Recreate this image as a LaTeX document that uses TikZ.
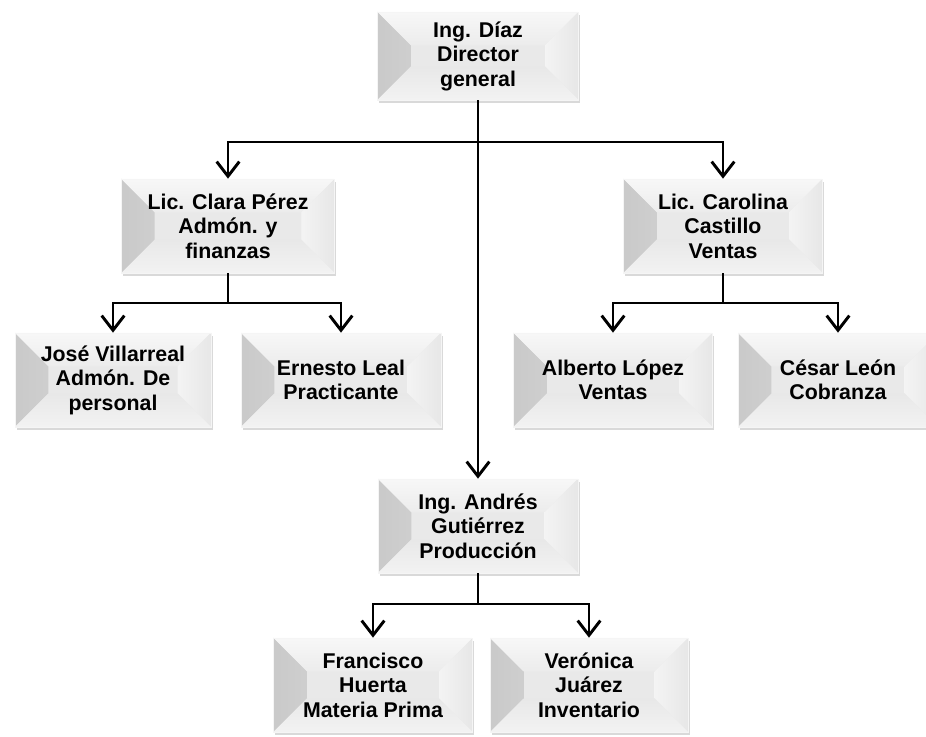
\documentclass[tikz,border=0pt]{standalone}
\usepackage{fontspec}
\setmainfont{Liberation Sans}
\usetikzlibrary{arrows.meta,shadows,calc}

\begin{document}
\begin{tikzpicture}[x=0.75pt, y=-0.75pt,
    puesto/.style={minimum width=150pt, minimum height=70.5pt, inner sep=0pt,
                   align=center, font=\fontsize{16}{18.4}\selectfont\bfseries,
                   fill=gray!17, draw=gray!8, line width=0.5pt,
                   drop shadow={shadow xshift=1.2pt, shadow yshift=-2.5pt, opacity=0.3},
                   path picture={
                     \shade[left color=gray!42, right color=gray!19]
                       (path picture bounding box.south west) -- (path picture bounding box.north west)
                       -- ($(path picture bounding box.north west)+(25pt,-25pt)$)
                       -- ($(path picture bounding box.south west)+(25pt,25pt)$) -- cycle;
                     \shade[top color=gray!6, bottom color=gray!15]
                       (path picture bounding box.north west) -- (path picture bounding box.north east)
                       -- ($(path picture bounding box.north east)+(-25pt,-25pt)$)
                       -- ($(path picture bounding box.north west)+(25pt,-25pt)$) -- cycle;
                     \shade[left color=gray!9, right color=gray!19]
                       (path picture bounding box.north east) -- (path picture bounding box.south east)
                       -- ($(path picture bounding box.south east)+(-25pt,25pt)$)
                       -- ($(path picture bounding box.north east)+(-25pt,-25pt)$) -- cycle;
                     \shade[top color=gray!18, bottom color=gray!10]
                       (path picture bounding box.south west) -- (path picture bounding box.south east)
                       -- ($(path picture bounding box.south east)+(-25pt,25pt)$)
                       -- ($(path picture bounding box.south west)+(25pt,25pt)$) -- cycle;
                   }},
    linea/.style={line width=2.2pt},
    enlace/.style={line width=2.2pt, -{Straight Barb[length=11pt, width=17pt, line width=2.2pt]}}]

  \useasboundingbox (0,0) rectangle (926,737);
  \clip (0,0) rectangle (926,737);

  \node[puesto, minimum width=150.75pt, minimum height=66pt] (dir) at (478,56)
    {Ing. Díaz\\Director\\general};
  \node[puesto, minimum width=160pt] (clara) at (228,226) {Lic. Clara Pérez\\Admón. y\\finanzas};
  \node[puesto, minimum width=149.25pt] (carol) at (723,226) {Lic. Carolina\\Castillo\\Ventas};
  \node[puesto, minimum width=147pt] (jose) at (113,380) {José Villarreal\\Admón. De\\personal};
  \node[puesto] (ernesto) at (341,380) {Ernesto Leal\\Practicante};
  \node[puesto, minimum width=149.25pt] (alberto) at (613,380) {Alberto López\\Ventas};
  \node[puesto] (cesar) at (838,380) {César León\\Cobranza};
  \node[puesto] (prod) at (478,526) {Ing. Andrés\\Gutiérrez\\Producción};
  \node[puesto, minimum width=149.25pt] (fran) at (373,685) {Francisco\\Huerta\\Materia Prima};
  \node[puesto, minimum width=148.5pt] (vero) at (589,685) {Verónica\\Juárez\\Inventario};

  \coordinate (j1) at (478,142);
  \coordinate (j2) at (228,303);
  \coordinate (j3) at (723,303);
  \coordinate (j4) at (478,604);

  \draw[linea] (dir.south) -- (j1);
  \draw[enlace] (j1) -| (clara.north);
  \draw[enlace] (j1) -| (carol.north);
  \draw[enlace] (dir.south) -- (prod.north);

  \draw[linea] (clara.south) -- (j2);
  \draw[enlace] (j2) -| (jose.north);
  \draw[enlace] (j2) -| (ernesto.north);

  \draw[linea] (carol.south) -- (j3);
  \draw[enlace] (j3) -| (alberto.north);
  \draw[enlace] (j3) -| (cesar.north);

  \draw[linea] (prod.south) -- (j4);
  \draw[enlace] (j4) -| (fran.north);
  \draw[enlace] (j4) -| (vero.north);
\end{tikzpicture}
\end{document}
